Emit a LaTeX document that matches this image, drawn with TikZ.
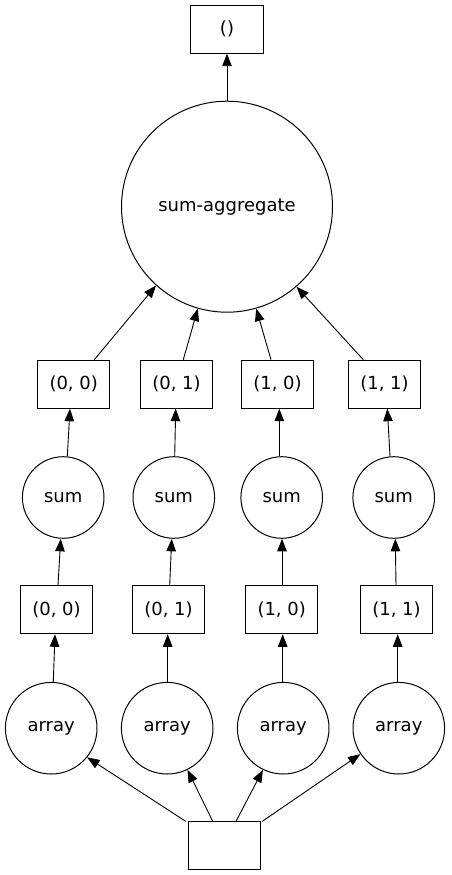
\documentclass[tikz,border=0pt]{standalone}
\usepackage{fontspec}
\setmainfont{DejaVu Sans}
\usetikzlibrary{arrows.meta}
\begin{document}
\begin{tikzpicture}[x=1pt,y=-1pt,
  every node/.style={font=\fontsize{18}{20}\selectfont, inner sep=0pt, line width=1pt},
  box/.style={draw, rectangle, minimum width=72.5pt, minimum height=48pt},
  bigcirc/.style={draw, circle, minimum size=211pt},
  sumcirc/.style={draw, circle, minimum size=81.6pt},
  arrcirc/.style={draw, circle, minimum size=91.6pt},
  arr/.style={line width=0.9pt, -{Triangle[length=12.5pt,width=9.5pt]}}]
\useasboundingbox (0,0) rectangle (451,875);
% result and final aggregation
\node[box] (top) at (227,29.2) {()};
\node[bigcirc] (agg) at (227,206.7) {sum-aggregate};
% partial sums per chunk
\node[box] (b00) at (73.7,384.2) {(0, 0)};
\node[box] (b01) at (176.5,384.2) {(0, 1)};
\node[box] (b10) at (277.5,384.2) {(1, 0)};
\node[box] (b11) at (384.5,384.2) {(1, 1)};
\node[sumcirc] (s0) at (63.2,497.5) {sum};
\node[sumcirc] (s1) at (173.8,497.5) {sum};
\node[sumcirc] (s2) at (281.7,497.5) {sum};
\node[sumcirc] (s3) at (393.7,497.5) {sum};
% array chunks
\node[box] (c00) at (56.5,609.8) {(0, 0)};
\node[box] (c01) at (168.5,609.8) {(0, 1)};
\node[box] (c10) at (281.7,609.8) {(1, 0)};
\node[box] (c11) at (396.5,609.8) {(1, 1)};
\node[arrcirc] (a0) at (51.2,728.2) {array};
\node[arrcirc] (a1) at (167.2,728.2) {array};
\node[arrcirc] (a2) at (283.2,728.2) {array};
\node[arrcirc] (a3) at (398.8,728.2) {array};
\node[box] (src) at (224.7,845.8) {};
% edges
\draw[arr] (agg.north) -- (top.south);
\draw[arr] ([xshift=20.6pt]b00.north) -- (agg.228.7);
\draw[arr] ([xshift=6.8pt]b01.north) -- (agg.254.5);
\draw[arr] ([xshift=-6.5pt]b10.north) -- (agg.286);
\draw[arr] ([xshift=-21.2pt]b11.north) -- (agg.311.4);
\draw[arr] ([xshift=4.1pt]s0.north) -- ([xshift=-3.7pt]b00.south);
\draw[arr] ([xshift=0.9pt]s1.north) -- ([xshift=-0.8pt]b01.south);
\draw[arr] ([xshift=-2.4pt]s2.north) -- ([xshift=1.8pt]b10.south);
\draw[arr] ([xshift=-3.7pt]s3.north) -- ([xshift=2.8pt]b11.south);
\draw[arr] ([xshift=1.5pt]c00.north) -- ([xshift=-2.5pt]s0.south);
\draw[arr] ([xshift=1.2pt]c01.north) -- ([xshift=-2.1pt]s1.south);
\draw[arr] ([xshift=0.3pt]c10.north) -- ([xshift=0.3pt]s2.south);
\draw[arr] ([xshift=-0.5pt]c11.north) -- ([xshift=1.6pt]s3.south);
\draw[arr] ([xshift=2.1pt]a0.north) -- ([xshift=-1.5pt]c00.south);
\draw[arr] ([xshift=0.5pt]a1.north) -- ([xshift=-0.8pt]c01.south);
\draw[arr] ([xshift=-0.5pt]a2.north) -- ([xshift=1pt]c10.south);
\draw[arr] ([xshift=-1.1pt]a3.north) -- ([xshift=1.2pt]c11.south);
\draw[arr] ([xshift=-39pt]src.north) -- (a0.321.2);
\draw[arr] ([xshift=-12pt]src.north) -- (a1.296.1);
\draw[arr] ([xshift=11.3pt]src.north) -- (a2.244.5);
\draw[arr] ([xshift=37.6pt]src.north) -- (a3.214.6);
\end{tikzpicture}
\end{document}
